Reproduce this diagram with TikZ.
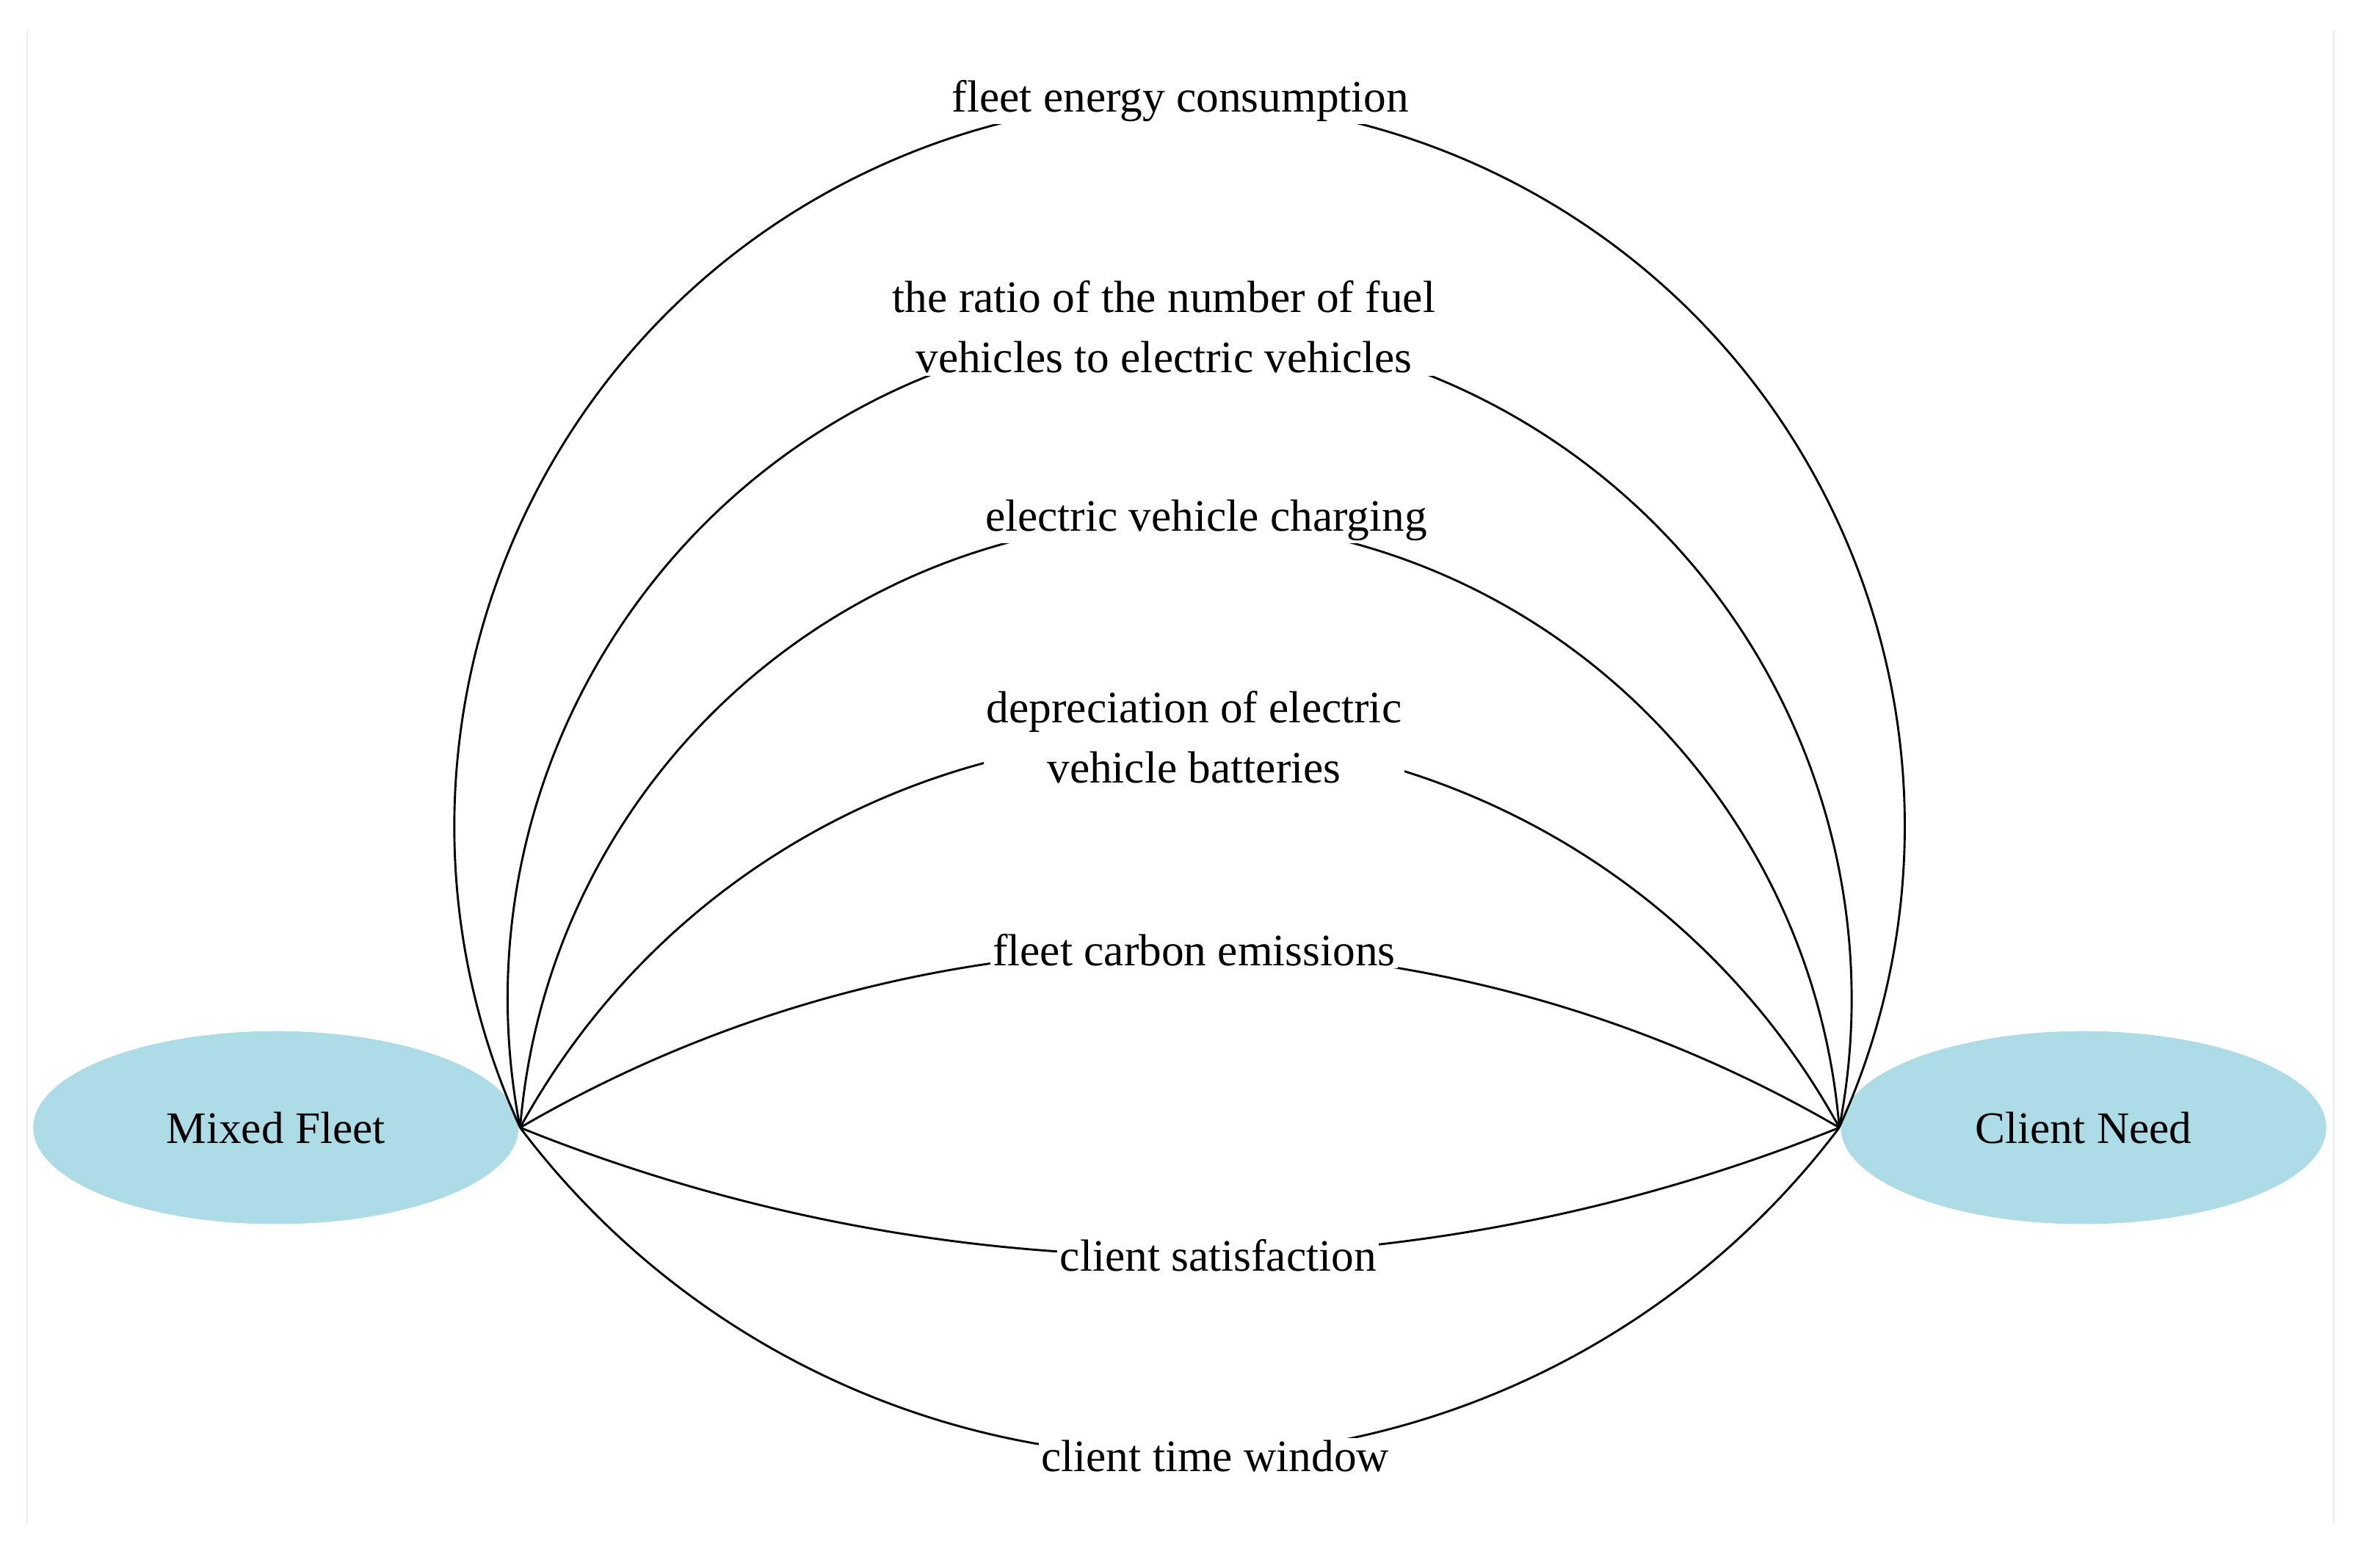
\documentclass[tikz,border=0pt]{standalone}
\usepackage{fontspec}
\setmainfont{Liberation Serif}
\usetikzlibrary{shapes.geometric}
\begin{document}
\begin{tikzpicture}[x=0.02cm,y=0.02cm,
  ent/.style={ellipse,fill={rgb,255:red,173;green,220;blue,230},minimum width=6.44cm,minimum height=2.56cm,inner sep=0pt,font=\fontsize{17}{21}\selectfont},
  lbl/.style={fill=white,inner sep=1pt,align=center,font=\fontsize{17}{22.7}\selectfont},
  conn/.style={draw=black,line width=0.8pt}]
\useasboundingbox (0,0) rectangle (1568,-1040);
\draw[gray!15] (18,-20) -- (18,-1010);
\draw[gray!15] (1548,-20) -- (1548,-1010);
\node[ent] (mf) at (183,-748) {Mixed Fleet};
\node[ent] (cn) at (1382,-748) {Client Need};
\coordinate (a) at (345,-748);
\draw[conn] (a) arc[start angle=204.57,end angle=-24.57,radius=481.0];
\draw[conn] (a) arc[start angle=191.03,end angle=-11.03,radius=445.7];
\draw[conn] (a) arc[start angle=175.30,end angle=4.70,radius=438.97];
\draw[conn] (a) arc[start angle=151.26,end angle=28.74,radius=499.0];
\draw[conn] (a) arc[start angle=120.19,end angle=59.81,radius=870.0];
\draw[conn] (a) arc[start angle=248.01,end angle=291.99,radius=1168.4];
\draw[conn] (a) arc[start angle=217.03,end angle=322.97,radius=548.0];
\node[lbl] (l1) at (783,-67) {fleet energy consumption};
\node[lbl] (l2) at (772,-217) {the ratio of the number of fuel\\vehicles to electric vehicles};
\node[lbl] (l3) at (800,-345) {electric vehicle charging};
\node[lbl] (l4) at (792,-489) {depreciation of electric\\vehicle batteries};
\node[lbl] (l5) at (792,-630) {fleet carbon emissions};
\node[lbl] (l6) at (808,-833) {client satisfaction};
\node[lbl] (l7) at (806,-966) {client time window};
\end{tikzpicture}
\end{document}
